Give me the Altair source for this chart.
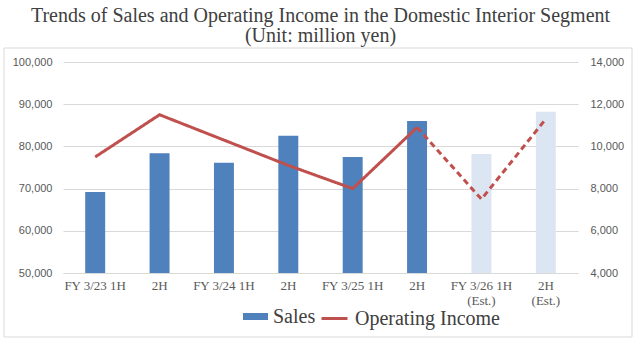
import json
import altair as alt
import pandas as pd

# ---- data ----
labels = ["FY 3/23 1H", "2H", "FY 3/24 1H", "2H", "FY 3/25 1H", "2H",
          "FY 3/26 1H\n(Est.)", "2H\n(Est.)"]
sales = [69200, 78400, 76100, 82500, 77500, 86000, 78200, 88200]
operating_income = [9500, 11500, 10300, 9100, 8000, 10900, 7500, 11300]
is_estimate = [False, False, False, False, False, False, True, True]
left_ticks = [50000, 60000, 70000, 80000, 90000, 100000]
right_ticks = [4000, 6000, 8000, 10000, 12000, 14000]

# ---- tables ----
bars_df = pd.DataFrame({
    "idx": list(range(len(labels))),
    "sales": sales,
    "kind": ["Sales (Est.)" if e else "Sales" for e in is_estimate],
})

rows = []
last_actual = max(i for i, e in enumerate(is_estimate) if not e)
for i, v in enumerate(operating_income):
    if i <= last_actual:
        rows.append({"idx": i, "oi": v, "seg": "actual", "series": "Operating Income"})
    if i >= last_actual:
        rows.append({"idx": i, "oi": v, "seg": "est", "series": "Operating Income"})
line_df = pd.DataFrame(rows)

SERIF = "Liberation Serif"
SANS = "Liberation Sans"
GRID = "#D9D9D9"
TXT = "#595959"

label_expr = "split(" + json.dumps(labels) + "[datum.value], '\\n')"

x_enc = alt.X(
    "idx:O",
    scale=alt.Scale(paddingInner=0.69, paddingOuter=0.345),
    axis=alt.Axis(
        title=None, labelExpr=label_expr, labelAngle=0, labelFont=SERIF,
        labelFontSize=13, labelColor=TXT, labelLineHeight=15,
        ticks=False, domain=True, domainColor=GRID, labelPadding=6,
        labelBaseline="top",
    ),
)

border = alt.Chart(pd.DataFrame({"a": [0]})).mark_rect(
    fill="white", fillOpacity=0, stroke=GRID, strokeWidth=1
).encode(
    x=alt.value(-59), x2=alt.value(569), y=alt.value(-14), y2=alt.value(275)
)

bars = alt.Chart(bars_df).mark_bar().encode(
    x=x_enc,
    y=alt.Y(
        "sales:Q",
        scale=alt.Scale(domain=[50000, 100000], zero=False, nice=False),
        axis=alt.Axis(
            title=None, values=left_ticks, format=",.0f", grid=True, gridColor=GRID,
            domain=False, ticks=False, labelFont=SANS, labelFontSize=11,
            labelColor=TXT, labelPadding=11,
        ),
    ),
    y2=alt.datum(50000),
    color=alt.Color(
        "kind:N",
        scale=alt.Scale(domain=["Sales", "Sales (Est.)"], range=["#4F81BD", "#DCE6F2"]),
        legend=alt.Legend(
            values=["Sales"], title=None, orient="none", legendX=180, legendY=242,
            symbolType="M-1,-0.28L1,-0.28L1,0.28L-1,0.28Z", symbolSize=625,
            symbolStrokeWidth=0, labelFont=SERIF, labelFontSize=20,
            labelColor="#404040", labelOffset=5,
        ),
    ),
)

line = alt.Chart(line_df).mark_line(strokeWidth=3, strokeCap="butt").encode(
    x=alt.X("idx:O"),
    y=alt.Y(
        "oi:Q",
        scale=alt.Scale(domain=[4000, 14000], zero=False, nice=False),
        axis=alt.Axis(
            title=None, orient="right", values=right_ticks, format=",.0f", grid=False,
            domain=False, ticks=False, labelFont=SANS, labelFontSize=11,
            labelColor=TXT, labelPadding=12,
        ),
    ),
    detail="seg:N",
    strokeDash=alt.StrokeDash(
        "seg:N",
        scale=alt.Scale(domain=["actual", "est"], range=[[1, 0], [6, 4]]),
        legend=None,
    ),
    stroke=alt.Stroke(
        "series:N",
        scale=alt.Scale(domain=["Operating Income"], range=["#C0504D"]),
        legend=alt.Legend(
            title=None, orient="none", legendX=257, legendY=242,
            symbolType="stroke", symbolSize=676, symbolStrokeWidth=3,
            labelFont=SERIF, labelFontSize=20, labelColor="#404040", labelOffset=6,
        ),
    ),
)

chart = alt.layer(border, bars, line).resolve_scale(
    y="independent", color="independent", stroke="independent"
).properties(
    width=515, height=211,
    padding={"left": 63, "top": 62, "right": 64, "bottom": 70},
    autosize=alt.AutoSizeParams(type="none"),
    background="white",
    title=alt.TitleParams(
        text=["Trends of Sales and Operating Income in the Domestic Interior Segment",
              "(Unit: million yen)"],
        font=SERIF, fontSize=20, fontWeight="normal", color="#404040",
        lineHeight=20, anchor="middle", frame="group", offset=2,
    ),
).configure_view(stroke=None)

chart.save("out.html", embed_options={"renderer": "svg", "actions": False})
